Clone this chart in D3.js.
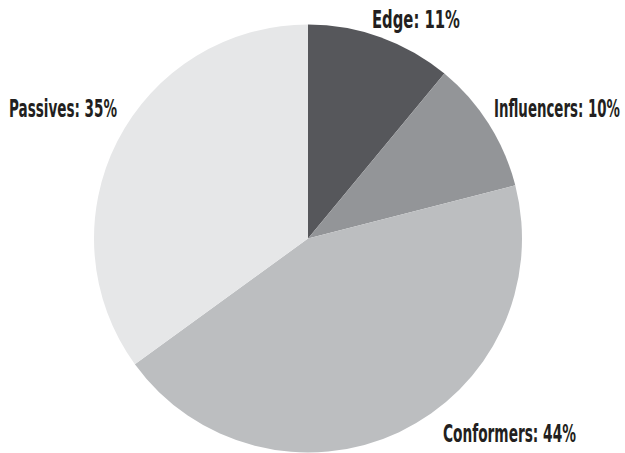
<!DOCTYPE html>
<html>
<head>
<meta charset="utf-8">
<script src="https://cdn.jsdelivr.net/npm/d3@7"></script>
<style>
  body { margin: 0; background: #fff; }
  .lbl { font-family: "Liberation Sans Narrow", "DejaVu Sans Condensed", "Liberation Sans", sans-serif; font-weight: bold; font-size: 25px; fill: #231f20; }
</style>
</head>
<body>
<div id="chart"></div>
<script>
var categories = ["Edge", "Influencers", "Conformers", "Passives"];
var values = [11, 10, 44, 35];
var colors = ["#56575b", "#939598", "#bcbec0", "#e6e7e8"];
// label placement: left x, baseline y, fitted width
var labelPos = [[372, 28, 88], [494, 117, 126], [443, 442, 133], [9, 117, 108]];

var svgWidth = 625, svgHeight = 453;
var cx = 308, cy = 238.5, radius = 214;

var svg = d3.select("#chart").append("svg")
    .attr("width", svgWidth)
    .attr("height", svgHeight);

var g = svg.append("g")
    .attr("transform", "translate(" + cx + "," + cy + ")");

var pie = d3.pie().sort(null).value(function(d) { return d; });
var arc = d3.arc().innerRadius(0).outerRadius(radius);

var arcs = pie(values);

g.selectAll("path")
    .data(arcs)
    .enter()
    .append("path")
    .attr("d", arc)
    .attr("fill", function(d, i) { return colors[i]; });

// condensed labels: squeeze each one horizontally to its width in the reference
svg.selectAll("g.lbl-g")
    .data(arcs)
    .enter()
    .append("g")
    .attr("class", "lbl-g")
    .each(function(d, i) {
        var grp = d3.select(this);
        var t = grp.append("text")
            .attr("class", "lbl")
            .attr("x", 0)
            .attr("y", 0)
            .text(categories[i] + ": " + d.data + "%");
        var w = t.node().getComputedTextLength();
        var sx = labelPos[i][2] / w;
        grp.attr("transform", "translate(" + labelPos[i][0] + "," + labelPos[i][1] + ") scale(" + sx + ",1)");
    });
</script>
</body>
</html>
